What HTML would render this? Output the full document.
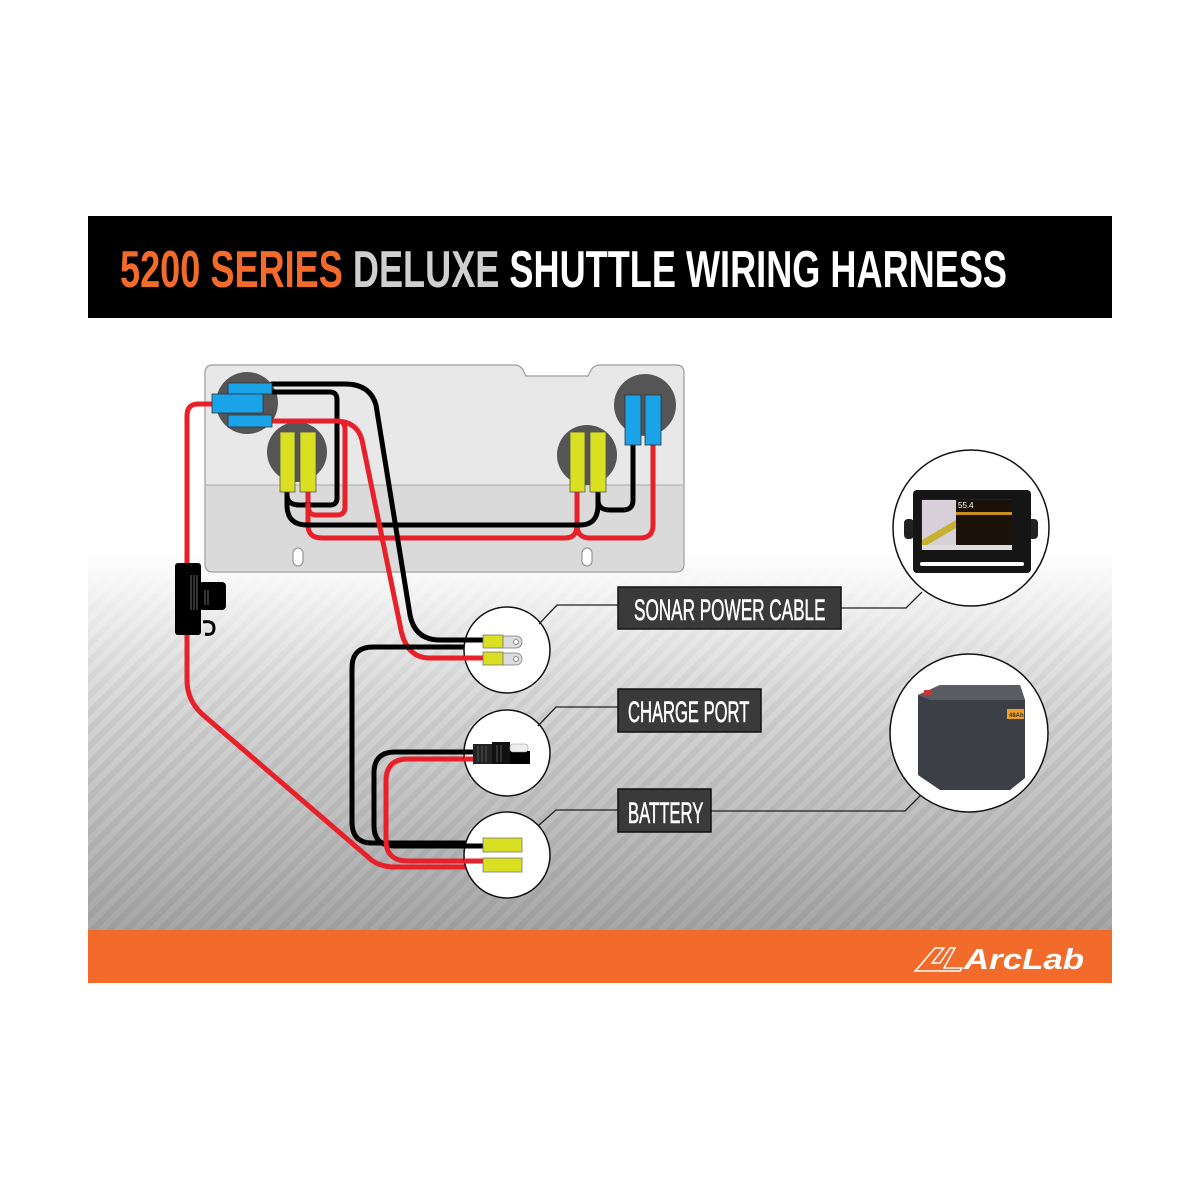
<!DOCTYPE html>
<html><head><meta charset="utf-8"><style>
html,body{margin:0;padding:0;background:#fff;}
svg{display:block}
</style></head><body>
<svg width="1200" height="1200" viewBox="0 0 1200 1200" xmlns="http://www.w3.org/2000/svg">
<defs>
<linearGradient id="bg" x1="0" y1="0" x2="0" y2="1">
<stop offset="0" stop-color="#ffffff"/>
<stop offset="0.38" stop-color="#ffffff"/>
<stop offset="0.6" stop-color="#dcdcdc"/>
<stop offset="1" stop-color="#a6a6a6"/>
</linearGradient>
<pattern id="str" width="12" height="12" patternUnits="userSpaceOnUse" patternTransform="rotate(-45)">
<rect width="12" height="6" fill="#000" opacity="0.05"/>
</pattern>
<linearGradient id="fade" x1="0" y1="0" x2="0" y2="1">
<stop offset="0" stop-color="#fff" stop-opacity="0"/>
<stop offset="0.4" stop-color="#fff" stop-opacity="0"/>
<stop offset="0.65" stop-color="#fff" stop-opacity="1"/>
<stop offset="1" stop-color="#fff" stop-opacity="1"/>
</linearGradient>
<mask id="m"><rect x="88" y="318" width="1024" height="612" fill="url(#fade)"/></mask>
</defs>
<rect x="88" y="318" width="1024" height="612" fill="url(#bg)"/>
<rect x="88" y="318" width="1024" height="612" fill="url(#str)" mask="url(#m)"/>
<!-- title -->
<rect x="88" y="216" width="1024" height="102" fill="#000"/>
<text x="120" y="287" font-family="'Liberation Sans Narrow','Liberation Sans',sans-serif" font-weight="bold" font-size="52" textLength="887" lengthAdjust="spacingAndGlyphs"><tspan fill="#f26b2a">5200 SERIES </tspan><tspan fill="#cfcfcf">DELUXE </tspan><tspan fill="#fff">SHUTTLE WIRING HARNESS</tspan></text>
<!-- footer -->
<rect x="88" y="930" width="1024" height="53" fill="#f26b2a"/>
<path d="M918,968 L935,948 L944,948 L932,963 L940,963 L950,948 L955,948 L944,968 L962,968 L960,971 L915,971 Z" fill="none" stroke="#fff" stroke-width="1.5"/>
<text x="964" y="969" font-family="'Liberation Sans',sans-serif" font-style="italic" font-weight="bold" font-size="29" fill="#fff" textLength="120" lengthAdjust="spacingAndGlyphs">ArcLab</text>
<!-- tray -->
<path d="M213,365 H515 Q520,365 523,370 L526,376 H588 L591,370 Q594,365 600,365 H676 Q684,365 684,373 V564 Q684,572 676,572 H213 Q205,572 205,564 V373 Q205,365 213,365 Z" fill="#e8e8e8" stroke="#9a9a9a" stroke-width="1.2"/>
<path d="M206,485 H683 V564 Q683,571 676,571 H213 Q206,571 206,564 Z" fill="#dadada"/>
<line x1="206" y1="485" x2="683" y2="485" stroke="#aaa" stroke-width="1"/>
<rect x="293" y="548" width="10" height="18" rx="5" fill="#fff" stroke="#888"/>
<rect x="582" y="548" width="10" height="18" rx="5" fill="#fff" stroke="#888"/>
<circle cx="247" cy="403" r="31" fill="#555"/>
<circle cx="297" cy="452" r="30" fill="#555"/>
<circle cx="587" cy="455" r="30" fill="#555"/>
<circle cx="645" cy="405" r="31" fill="#555"/>
<!-- wires -->
<g fill="none" stroke-width="5" stroke-linecap="round">
<path d="M308,492 V525 Q308,538 322,538 H565 Q577,538 577,525 V492 M577,525 Q577,538 590,538 H640 Q653,538 653,525 V444" stroke="#e8202a"/>
<path d="M287,492 V505 Q287,525 307,525 H580 Q598,525 598,505 V492 M598,495 V500 Q598,510 610,510 H623 Q633,510 633,500 V444" stroke="#000"/>
<path d="M272,392 H330 Q337,392 337,400 V498 Q337,505 330,505 H300 Q287,505 287,495" stroke="#000"/>
<path d="M272,421 H338 Q345,421 345,430 V507 Q345,515 337,515 H316 Q308,515 308,505" stroke="#e8202a"/>
<path d="M272,421 H335 Q357,421 362,440 L400,625 Q405,657 428,658 H485" stroke="#e8202a"/>
<path d="M272,384 H345 Q370,384 376,405 L410,615 Q415,640 440,640 H485" stroke="#000"/>
<path d="M212,404 H198 Q187,404 187,416 V680 Q187,700 202,714 L368,857 Q378,867 395,867 H485" stroke="#e8202a"/>
<path d="M485,843 H372 Q352,843 352,822 V668 Q352,647 373,647 H470" stroke="#000"/>
<path d="M485,752 H395 Q374,752 374,773 V826 Q374,846 395,846 H485" stroke="#000"/>
<path d="M485,759 H408 Q386,759 386,781 V840 Q386,861 408,861 H485" stroke="#e8202a"/>
</g>
<!-- blue connectors -->
<g fill="#1aa3e8" stroke="#333" stroke-width="0.8">
<rect x="228" y="383" width="44" height="11"/>
<rect x="212" y="394" width="51" height="19"/>
<rect x="228" y="415" width="44" height="12"/>
<rect x="625" y="395" width="16" height="50"/>
<rect x="645" y="395" width="16" height="50"/>
</g>
<g fill="#d8e021" stroke="#555" stroke-width="0.8">
<rect x="280" y="432" width="15" height="60"/>
<rect x="300" y="432" width="16" height="60"/>
<rect x="570" y="432" width="15" height="60"/>
<rect x="590" y="432" width="16" height="60"/>
</g>
<!-- fuse -->
<rect x="175" y="563" width="26" height="72" rx="3" fill="#000"/>
<rect x="199" y="582" width="27" height="28" rx="4" fill="#000"/>
<path d="M203,622 Q214,620 214,628 Q214,636 205,634" fill="none" stroke="#000" stroke-width="3"/>
<g stroke="#666" stroke-width="1"><line x1="191" y1="575" x2="191" y2="610"/><line x1="194" y1="575" x2="194" y2="610"/><line x1="197" y1="575" x2="197" y2="610"/><line x1="205" y1="590" x2="205" y2="605"/><line x1="208" y1="590" x2="208" y2="605"/></g>
<!-- callout circles -->
<g fill="#fff" stroke="#111" stroke-width="1.5">
<circle cx="507" cy="650" r="43"/>
<circle cx="507" cy="753" r="43"/>
<circle cx="507" cy="855" r="43"/>
<circle cx="971" cy="528" r="78"/>
<circle cx="969" cy="733" r="79"/>
</g>
<g stroke-width="5" fill="none">
<path d="M464,640 H485" stroke="#000"/><path d="M464,658 H485" stroke="#e8202a"/>
<path d="M464,752 H480" stroke="#000"/><path d="M464,759 H480" stroke="#e8202a"/>
<path d="M464,846 H485" stroke="#000"/><path d="M464,861 H485" stroke="#e8202a"/>
</g>
<g fill="#d8e021" stroke="#777" stroke-width="0.8">
<rect x="483" y="635" width="20" height="13"/>
<rect x="483" y="652" width="20" height="13"/>
<rect x="483" y="838" width="39" height="14"/>
<rect x="483" y="858" width="39" height="14"/>
</g>
<g fill="#ddd" stroke="#777" stroke-width="0.8">
<path d="M503,636 H516 A6,6 0 0 1 516,648 H503 Z"/><circle cx="516" cy="642" r="2.5" fill="#fff"/>
<path d="M503,653 H516 A6,6 0 0 1 516,665 H503 Z"/><circle cx="516" cy="659" r="2.5" fill="#fff"/>
</g>
<rect x="473" y="744" width="22" height="20" fill="#222"/>
<rect x="492" y="742" width="18" height="22" fill="#111"/>
<rect x="510" y="751" width="20" height="13" fill="#000"/>
<rect x="510" y="744" width="18" height="8" rx="3" fill="#eee" stroke="#999" stroke-width="0.6"/>
<g stroke="#555" stroke-width="1"><line x1="478" y1="746" x2="478" y2="762"/><line x1="482" y1="746" x2="482" y2="762"/><line x1="486" y1="746" x2="486" y2="762"/><line x1="497" y1="745" x2="497" y2="762"/><line x1="501" y1="745" x2="501" y2="762"/></g>
<!-- label lines -->
<g fill="none" stroke="#222" stroke-width="1.3">
<path d="M539,624 L557,605 H620"/>
<path d="M841,608 H906 L922,592"/>
<path d="M538,726 L556,707 H620"/>
<path d="M538,826 L556,810 H620"/>
<path d="M711,811 H905 L921,795"/>
</g>
<g fill="#3a3a3a" stroke="#111" stroke-width="1.5">
<rect x="618" y="587" width="223" height="42"/>
<rect x="618" y="689" width="143" height="43"/>
<rect x="618" y="789" width="93" height="43"/>
</g>
<g font-family="'Liberation Sans',sans-serif" font-size="30" fill="#fff" stroke="#fff" stroke-width="0.6">
<text transform="translate(634,620) scale(0.572,1)">SONAR POWER CABLE</text>
<text transform="translate(628,722) scale(0.553,1)">CHARGE PORT</text>
<text transform="translate(628,823) scale(0.556,1)">BATTERY</text>
</g>
<!-- display -->
<g>
<rect x="904" y="519" width="10" height="20" rx="4" fill="#222"/>
<rect x="1028" y="519" width="10" height="20" rx="4" fill="#222"/>
<rect x="913" y="490" width="118" height="83" rx="4" fill="#151515"/>
<rect x="921" y="499" width="91" height="50" fill="#222"/>
<rect x="922" y="500" width="34" height="48" fill="#d8d0d8"/>
<path d="M922,540 L956,520 L956,528 L922,548 Z" fill="#c8b030"/>
<rect x="956" y="500" width="56" height="48" fill="#1a1208"/>
<rect x="956" y="512" width="56" height="3" fill="#c89020"/>
<rect x="922" y="545" width="90" height="5" fill="#ddd"/>
<rect x="920" y="562" width="104" height="4" rx="2" fill="#fff"/>
<text x="958" y="508" font-family="'Liberation Sans',sans-serif" font-size="8" fill="#fff">55.4</text>
</g>
<!-- battery -->
<g>
<path d="M918,695 L940,685 H1020 L1025,700 V778 L1010,790 H940 L918,775 Z" fill="#3d3f46"/>
<path d="M918,695 L940,685 H1020 L1025,700 H930 Z" fill="#5a5c63"/>
<rect x="924" y="690" width="8" height="5" fill="#c33"/>
<rect x="1007" y="709" width="17" height="10" fill="#f0a020"/>
<text x="1009" y="717" font-family="'Liberation Sans',sans-serif" font-size="6" font-weight="bold" fill="#333">48Ah</text>
</g>
</svg>
</body></html>
